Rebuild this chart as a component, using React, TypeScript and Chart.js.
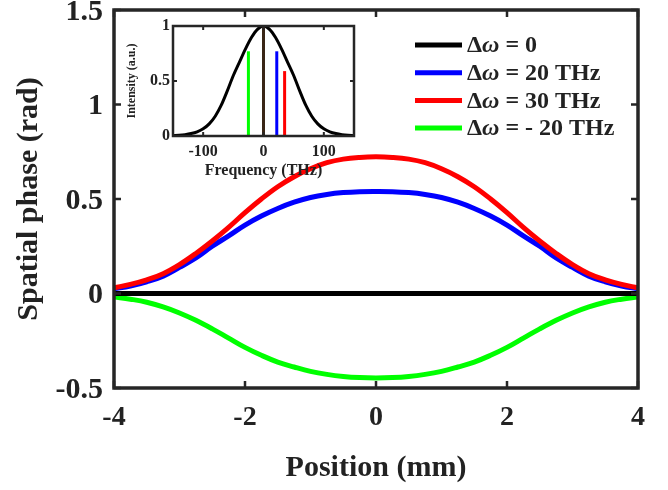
import React, { useEffect, useRef } from "react";
import { Chart, registerables } from "chart.js";

Chart.register(...registerables);

// ---------- main chart data ----------
const positions = [
  -4, -3.75, -3.5, -3.25, -3, -2.75, -2.5, -2.25, -2, -1.75, -1.5, -1.25, -1, -0.75, -0.5, -0.25,
  0, 0.25, 0.5, 0.75, 1, 1.25, 1.5, 1.75, 2, 2.25, 2.5, 2.75, 3, 3.25, 3.5, 3.75, 4,
];
const phaseZero = [
  0, 0, 0, 0, 0, 0, 0, 0, 0, 0, 0, 0, 0, 0, 0, 0,
  0, 0, 0, 0, 0, 0, 0, 0, 0, 0, 0, 0, 0, 0, 0, 0, 0,
];
const phase20 = [
  0.025, 0.04, 0.062, 0.092, 0.138, 0.188, 0.25, 0.305, 0.362, 0.41, 0.45, 0.483, 0.508, 0.524, 0.534, 0.539,
  0.54, 0.539, 0.534, 0.524, 0.508, 0.483, 0.45, 0.41, 0.362, 0.305, 0.25, 0.188, 0.138, 0.092, 0.062, 0.04, 0.025,
];
const phase30 = [
  0.03, 0.048, 0.072, 0.105, 0.153, 0.212, 0.278, 0.35, 0.428, 0.5, 0.565, 0.618, 0.66, 0.692, 0.711, 0.72,
  0.723, 0.72, 0.711, 0.692, 0.66, 0.618, 0.565, 0.5, 0.428, 0.35, 0.278, 0.212, 0.153, 0.105, 0.072, 0.048, 0.03,
];
const phaseMinus20 = [
  -0.018, -0.03, -0.046, -0.071, -0.103, -0.142, -0.187, -0.236, -0.285, -0.327, -0.363, -0.389, -0.412, -0.428, -0.439, -0.445,
  -0.447, -0.445, -0.439, -0.428, -0.412, -0.389, -0.363, -0.327, -0.285, -0.236, -0.187, -0.142, -0.103, -0.071, -0.046, -0.03, -0.018,
];
const seriesLabels = ["Δω = 0", "Δω = 20 THz", "Δω = 30 THz", "Δω = - 20 THz"];
const seriesColors = ["#000000", "#0000ff", "#ff0000", "#00ff00"];
const seriesOrder = [0, 2, 1, 3];
const xTicks = [-4, -2, 0, 2, 4];
const yTicks = [-0.5, 0, 0.5, 1, 1.5];

// ---------- inset data ----------
const frequencies = [
  -150, -140, -130, -120, -110, -100, -90, -80, -70, -60, -50, -40, -30, -20, -10,
  0, 10, 20, 30, 40, 50, 60, 70, 80, 90, 100, 110, 120, 130, 140, 150,
];
const spectrum = [
  0.003, 0.006, 0.012, 0.022, 0.038, 0.065, 0.11, 0.18, 0.28, 0.41, 0.55, 0.67, 0.79, 0.895, 0.97,
  1.0, 0.97, 0.895, 0.79, 0.67, 0.55, 0.41, 0.28, 0.18, 0.11, 0.065, 0.038, 0.022, 0.012, 0.006, 0.003,
];
const markerFreqs = [-25, 0, 22, 35];
const markerHeights = [0.77, 1, 0.77, 0.59];
const markerColors = ["#00ff00", "#3a2616", "#0000ff", "#ff0000"];
const insetXTicks = [-100, 0, 100];
const insetYTicks = [0, 0.5, 1];

const FONT = "'Liberation Serif', 'Times New Roman', serif";
const INK = "#222222";
const FRAME = "#262626";

function framePlugin(id: string, lw: number, tickLen: number, tickW: number) {
  return {
    id,
    beforeDatasetsDraw(chart: any) {
      const { ctx, chartArea: a } = chart;
      ctx.save();
      ctx.fillStyle = "#ffffff";
      ctx.fillRect(a.left, a.top, a.right - a.left, a.bottom - a.top);
      ctx.restore();
    },
    afterDatasetsDraw(chart: any) {
      const { ctx, chartArea: a, scales } = chart;
      const xs = scales.x;
      const ys = scales.y;
      ctx.save();
      ctx.strokeStyle = FRAME;
      ctx.lineWidth = tickW;
      ctx.beginPath();
      for (const t of xs.ticks) {
        const px = xs.getPixelForValue(t.value);
        ctx.moveTo(px, a.bottom);
        ctx.lineTo(px, a.bottom - tickLen);
        ctx.moveTo(px, a.top);
        ctx.lineTo(px, a.top + tickLen);
      }
      for (const t of ys.ticks) {
        const py = ys.getPixelForValue(t.value);
        ctx.moveTo(a.left, py);
        ctx.lineTo(a.left + tickLen, py);
        ctx.moveTo(a.right, py);
        ctx.lineTo(a.right - tickLen, py);
      }
      ctx.stroke();
      ctx.lineWidth = lw;
      ctx.strokeRect(a.left, a.top, a.right - a.left, a.bottom - a.top);
      ctx.restore();
    },
  };
}

const legendPlugin = {
  id: "innerLegend",
  afterDraw(chart: any) {
    const { ctx, chartArea: a } = chart;
    const lineX0 = a.left + 301;
    const lineX1 = a.left + 348;
    const textX = a.left + 353;
    const rowY0 = a.top + 35;
    const rowStep = 27.7;
    ctx.save();
    ctx.textBaseline = "middle";
    chart.data.datasets.forEach((ds: any, i: number) => {
      const y = rowY0 + i * rowStep;
      ctx.strokeStyle = ds.borderColor;
      ctx.lineWidth = 5;
      ctx.beginPath();
      ctx.moveTo(lineX0, y);
      ctx.lineTo(lineX1, y);
      ctx.stroke();
      const parts = String(ds.label).split("ω");
      ctx.fillStyle = INK;
      let x = textX;
      ctx.font = `bold 24px ${FONT}`;
      ctx.fillText(parts[0], x, y + 1);
      x += ctx.measureText(parts[0]).width;
      ctx.font = `italic bold 24px ${FONT}`;
      ctx.fillText("ω", x, y + 1);
      x += ctx.measureText("ω").width;
      ctx.font = `bold 24px ${FONT}`;
      ctx.fillText(parts[1] || "", x, y + 1);
    });
    ctx.restore();
  },
};

function setTicks(vals: number[]) {
  return (scale: any) => {
    scale.ticks = vals.map((v) => ({ value: v }));
  };
}

function fitX(h: number) {
  return (s: any) => {
    s.height = h;
    s.paddingLeft = 0;
    s.paddingRight = 0;
    s.paddingTop = 0;
    s.paddingBottom = 0;
  };
}

function fitY(w: number) {
  return (s: any) => {
    s.width = w;
    s.paddingLeft = 0;
    s.paddingRight = 0;
    s.paddingTop = 0;
    s.paddingBottom = 0;
  };
}

export default function App() {
  const mainRef = useRef<HTMLCanvasElement>(null);
  const insetRef = useRef<HTMLCanvasElement>(null);

  useEffect(() => {
    const series = [phaseZero, phase20, phase30, phaseMinus20];
    const main = new Chart(mainRef.current as HTMLCanvasElement, {
      type: "line",
      data: {
        datasets: series.map((vals, i) => ({
          label: seriesLabels[i],
          data: positions.map((p, j) => ({ x: p, y: vals[j] })),
          borderColor: seriesColors[i],
          backgroundColor: seriesColors[i],
          borderWidth: 5,
          pointRadius: 0,
          tension: 0.4,
          order: seriesOrder[i],
          fill: false,
        })),
      },
      options: {
        responsive: false,
        animation: false,
        layout: { padding: { top: 10, right: 30, left: 0, bottom: 0 } },
        plugins: { legend: { display: false }, tooltip: { enabled: false } },
        scales: {
          x: {
            type: "linear",
            min: -4,
            max: 4,
            afterBuildTicks: setTicks(xTicks),
            afterFit: fitX(102),
            grid: { display: false, drawTicks: false },
            border: { display: false },
            ticks: {
              padding: 13,
              color: INK,
              font: { family: FONT, size: 28, weight: "bold" },
              callback: (v: any) => String(v),
            },
            title: {
              display: true,
              text: "Position (mm)",
              color: INK,
              font: { family: FONT, size: 30, weight: "bold" },
              padding: { top: 0, bottom: 4 },
            },
          },
          y: {
            type: "linear",
            min: -0.5,
            max: 1.5,
            afterBuildTicks: setTicks(yTicks),
            afterFit: fitY(114),
            grid: { display: false, drawTicks: false },
            border: { display: false },
            ticks: {
              padding: 11,
              labelOffset: 2,
              color: INK,
              font: { family: FONT, size: 30, weight: "bold" },
              callback: (v: any) => String(v),
            },
            title: {
              display: true,
              text: "Spatial phase (rad)",
              color: INK,
              font: { family: FONT, size: 30, weight: "bold" },
              padding: { top: 11, bottom: 0 },
            },
          },
        },
      },
      plugins: [framePlugin("mainFrame", 3.5, 7, 2.5), legendPlugin],
    } as any);

    const markerSets = markerFreqs.map((f, i) => ({
      label: "marker" + i,
      data: [
        { x: f, y: 0 },
        { x: f, y: markerHeights[i] },
      ],
      borderColor: markerColors[i],
      borderWidth: 3,
      pointRadius: 0,
      order: 0,
    }));
    const inset = new Chart(insetRef.current as HTMLCanvasElement, {
      type: "line",
      data: {
        datasets: [
          ...markerSets,
          {
            label: "spectrum",
            data: frequencies.map((f, j) => ({ x: f, y: spectrum[j] })),
            borderColor: "#000000",
            borderWidth: 3,
            pointRadius: 0,
            cubicInterpolationMode: "monotone" as const,
            order: 1,
          },
        ],
      },
      options: {
        responsive: false,
        animation: false,
        layout: { padding: { top: 10, right: 6, left: 0, bottom: 0 } },
        plugins: { legend: { display: false }, tooltip: { enabled: false } },
        scales: {
          x: {
            type: "linear",
            min: -150,
            max: 150,
            afterBuildTicks: setTicks(insetXTicks),
            afterFit: fitX(46),
            grid: { display: false, drawTicks: false },
            border: { display: false },
            ticks: {
              padding: 6,
              color: INK,
              font: { family: FONT, size: 16, weight: "bold" },
              callback: (v: any) => String(v),
            },
            title: {
              display: true,
              text: "Frequency (THz)",
              color: INK,
              font: { family: FONT, size: 16, weight: "bold" },
              padding: { top: 0, bottom: 2 },
            },
          },
          y: {
            type: "linear",
            min: 0,
            max: 1,
            afterBuildTicks: setTicks(insetYTicks),
            afterFit: fitY(53),
            grid: { display: false, drawTicks: false },
            border: { display: false },
            ticks: {
              padding: 3,
              color: INK,
              font: { family: FONT, size: 16, weight: "bold" },
              callback: (v: any) => String(v),
            },
            title: {
              display: true,
              text: "Intensity (a.u.)",
              color: INK,
              font: { family: FONT, size: 12, weight: "bold" },
              padding: { top: 5, bottom: 0 },
            },
          },
        },
      },
      plugins: [framePlugin("insetFrame", 2.5, 4, 2)],
    } as any);

    return () => {
      main.destroy();
      inset.destroy();
    };
  }, []);

  return (
    <div style={{ position: "fixed", left: 0, top: 0, width: 668, height: 490, background: "#ffffff" }}>
      <canvas ref={mainRef} width={668} height={490} style={{ position: "absolute", left: 0, top: 0, display: "block" }} />
      <canvas ref={insetRef} width={240} height={166} style={{ position: "absolute", left: 120, top: 16, display: "block" }} />
    </div>
  );
}
